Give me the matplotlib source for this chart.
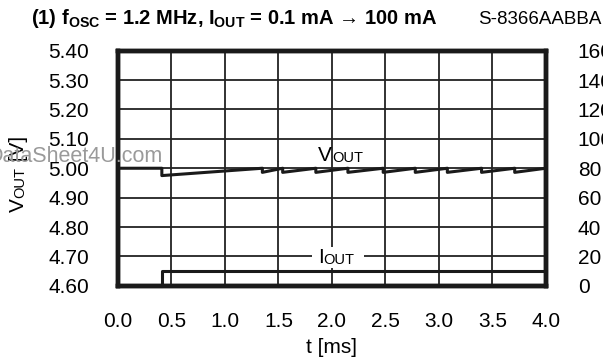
import matplotlib
matplotlib.use("Agg")
import matplotlib.pyplot as plt
from matplotlib.text import Annotation

plt.rcParams['font.family'] = ['Liberation Sans', 'DejaVu Sans']
plt.rcParams['mathtext.fontset'] = 'custom'
plt.rcParams['mathtext.rm'] = 'Liberation Sans'
plt.rcParams['mathtext.bf'] = 'Liberation Sans:bold'

# ---- data ----
t_vout = [0.0, 0.41, 0.41, 1.35, 1.35, 1.54, 1.54, 1.85, 1.85, 2.15, 2.15,
          2.48, 2.48, 2.78, 2.78, 3.08, 3.08, 3.40, 3.40, 3.71, 3.71, 4.0]
vout = [5.000, 5.000, 4.975, 5.000, 4.986, 5.000, 4.986, 5.000, 4.986, 5.000, 4.986,
        5.000, 4.986, 5.000, 4.986, 5.000, 4.986, 5.000, 4.986, 5.000, 4.986, 5.000]
t_iout = [0.0, 0.41, 0.41, 4.0]
iout = [0, 0, 10, 10]

x_ticks = [0.0, 0.5, 1.0, 1.5, 2.0, 2.5, 3.0, 3.5, 4.0]
v_ticks = [4.60, 4.70, 4.80, 4.90, 5.00, 5.10, 5.20, 5.30, 5.40]
i_ticks = [0, 20, 40, 60, 80, 100, 120, 140, 160]

FS = 15
fig = plt.figure(figsize=(6.03, 3.58), dpi=100)
ax = fig.add_axes([0.1957, 0.2017, 0.9050 - 0.1957, 0.8584 - 0.2017])
ax2 = ax.twinx()

ax.set_xlim(0, 4.0)
ax.set_ylim(4.60, 5.40)
ax2.set_ylim(0, 160)
ax.set_xticks(x_ticks)
ax.set_xticklabels([f"{v:.1f}" for v in x_ticks])
ax.set_yticks(v_ticks)
ax.set_yticklabels([f"{v:.2f}" for v in v_ticks])
ax2.set_yticks(i_ticks)
ax2.set_yticklabels([str(v) for v in i_ticks])

ax.grid(True, color='#222222', linewidth=1.3)
ax.set_axisbelow(True)
ax.tick_params(axis='x', length=0, pad=19, labelsize=FS)
ax.tick_params(axis='y', length=0, pad=21, labelsize=FS)
ax2.tick_params(axis='y', length=0, pad=23, labelsize=FS)
for a in (ax, ax2):
    for s in a.spines.values():
        s.set_linewidth(3.2)
        s.set_color('#1a1a1a')

ax.plot(t_vout, vout, color='#1a1a1a', linewidth=2.2, zorder=3)
ax2.plot(t_iout, iout, color='#1a1a1a', linewidth=2.2, zorder=5, clip_on=False)

ax.set_xlabel("t [ms]", fontsize=FS, labelpad=5)

# VOUT label (small caps style)
tv = ax.text(1.87, 5.023, "V", fontsize=FS, ha='left', va='baseline', zorder=4)
ax.annotate("OUT", xy=(1, 0), xycoords=tv, fontsize=FS * 0.7, ha='left', va='bottom', zorder=4)

# IOUT label with white background (background box behind the label)
ax2.text(2.055, 16.8, " IOUT ", fontsize=11, color='none', ha='center', va='baseline',
         zorder=4, bbox=dict(facecolor='white', edgecolor='none', pad=2.5))
ti = ax2.text(1.87, 15.2, "I", fontsize=FS, ha='left', va='baseline', zorder=6)
ax2.annotate("OUT", xy=(1, 0), xycoords=ti, fontsize=FS * 0.7, ha='left', va='bottom',
             zorder=6)

# y-axis label "VOUT [V]" rotated
yl = fig.text(0.046, 1 - 212 / 358, "V", fontsize=FS, rotation=90, ha='right', va='bottom')
a1 = fig.add_artist(Annotation("OUT", xy=(1, 1), xycoords=yl, fontsize=FS * 0.7, rotation=90,
                               ha='right', va='bottom'))
a2 = fig.add_artist(Annotation(" [V]", xy=(1, 1), xycoords=a1, fontsize=FS, rotation=90,
                               ha='right', va='bottom'))

# watermark
fig.text(-0.021, 1 - 161.5 / 358, "DataSheet4U.com", fontsize=15.5, color='#9a9a9a',
         ha='left', va='baseline', zorder=10)

# title
fig.text(0.051, 1 - 24 / 358,
         r"(1) f$_\mathbf{OSC}$ = 1.2 MHz, I$_\mathbf{OUT}$ = 0.1 mA → 100 mA",
         fontsize=14.5, fontweight='bold', ha='left', va='baseline')
fig.text(0.997, 1 - 24 / 358, "S-8366AABBA", fontsize=13.5, ha='right', va='baseline')

fig.savefig("out.png", dpi=100)
